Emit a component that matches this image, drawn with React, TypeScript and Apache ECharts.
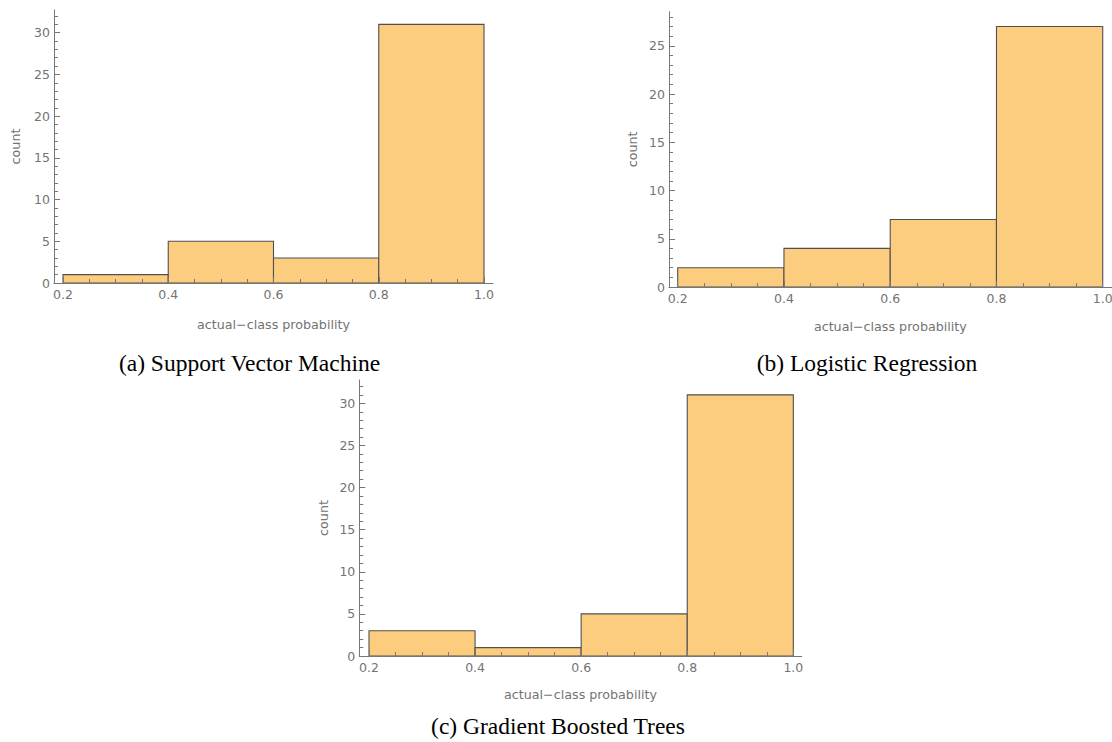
import React, { useEffect, useRef } from "react";
import * as echarts from "echarts";

const binEdges = [0.2, 0.4, 0.6, 0.8, 1.0];
const countsSVM = [1, 5, 3, 31];
const countsLR = [2, 4, 7, 27];
const countsGBT = [3, 1, 5, 31];

const xMajorTicks = [0.2, 0.4, 0.6, 0.8, 1.0];
const xMinorTicks = [0.2, 0.25, 0.3, 0.35, 0.4, 0.45, 0.5, 0.55, 0.6, 0.65, 0.7, 0.75, 0.8, 0.85, 0.9, 0.95, 1.0];
const yMajorTicksA = [0, 5, 10, 15, 20, 25, 30];
const yMajorTicksB = [0, 5, 10, 15, 20, 25];
const yMinorTicksA = [0, 1, 2, 3, 4, 5, 6, 7, 8, 9, 10, 11, 12, 13, 14, 15, 16, 17, 18, 19, 20, 21, 22, 23, 24, 25, 26, 27, 28, 29, 30, 31, 32];
const yMinorTicksB = [0, 1, 2, 3, 4, 5, 6, 7, 8, 9, 10, 11, 12, 13, 14, 15, 16, 17, 18, 19, 20, 21, 22, 23, 24, 25, 26, 27, 28];

const captions = ["(a) Support Vector Machine", "(b) Logistic Regression", "(c) Gradient Boosted Trees"];
const xName = "actual\u2212class probability";
const yName = "count";

const FILL = "#fccd7e";
const EDGE = "#505050";
const AXIS = "#777777";
const TEXT = "#737373";

function binsData(counts: number[]) {
  return counts.map((c, i) => [binEdges[i], binEdges[i + 1], c]);
}

export default function App() {
  const ref = useRef<HTMLDivElement>(null);
  useEffect(() => {
    if (!ref.current) return;
    const chart = echarts.init(ref.current, null, { renderer: "svg" });

    const panels = [
      { grid: { left: 54, top: 10, width: 439, height: 273 }, xmin: 0.1829, xmax: 1.0171, ymax: 32.72, counts: countsSVM, yMaj: yMajorTicksA, yMin: yMinorTicksA, yGap: 32, xGap: 35 },
      { grid: { left: 669, top: 11.7, width: 442.7, height: 275.3 }, xmin: 0.1836, xmax: 1.0169, ymax: 28.53, counts: countsLR, yMaj: yMajorTicksB, yMin: yMinorTicksB, yGap: 30.5, xGap: 32.5 },
      { grid: { left: 359.3, top: 380, width: 442.4, height: 276 }, xmin: 0.1817, xmax: 1.0158, ymax: 32.77, counts: countsGBT, yMaj: yMajorTicksA, yMin: yMinorTicksA, yGap: 29.5, xGap: 31.5 },
    ];

    const grids: any[] = [];
    const xAxes: any[] = [];
    const yAxes: any[] = [];
    const series: any[] = [];

    panels.forEach((p, i) => {
      grids.push({ ...p.grid, outerBoundsMode: "none", containLabel: false });
      xAxes.push({
        type: "value", gridIndex: i, min: p.xmin, max: p.xmax, z: 3,
        name: xName, nameLocation: "middle", nameGap: p.xGap,
        nameTextStyle: { color: TEXT, fontFamily: "DejaVu Sans", fontSize: 12.7 },
        axisLine: { show: true, lineStyle: { color: AXIS, width: 1 } },
        axisTick: { show: true, inside: true, length: 6, customValues: xMajorTicks, lineStyle: { color: AXIS, width: 1 } },
        axisLabel: { show: true, customValues: xMajorTicks, margin: 5, color: TEXT, fontFamily: "DejaVu Sans", fontSize: 12.5, formatter: (v: number) => v.toFixed(1) },
        splitLine: { show: false },
      });
      xAxes.push({
        type: "value", gridIndex: i, min: p.xmin, max: p.xmax, z: 3, position: "bottom",
        axisLine: { show: false },
        axisTick: { show: true, inside: true, length: 4, customValues: xMinorTicks, lineStyle: { color: AXIS, width: 1 } },
        axisLabel: { show: false },
        splitLine: { show: false },
      });
      yAxes.push({
        type: "value", gridIndex: i, min: 0, max: p.ymax, z: 3, position: "left",
        name: yName, nameLocation: "middle", nameGap: p.yGap,
        nameTextStyle: { color: TEXT, fontFamily: "DejaVu Sans", fontSize: 12.7 },
        axisLine: { show: true, lineStyle: { color: AXIS, width: 1 } },
        axisTick: { show: true, inside: true, length: 6, customValues: p.yMaj, lineStyle: { color: AXIS, width: 1 } },
        axisLabel: { show: true, customValues: p.yMaj, margin: 4, color: TEXT, fontFamily: "DejaVu Sans", fontSize: 12.5 },
        splitLine: { show: false },
      });
      yAxes.push({
        type: "value", gridIndex: i, min: 0, max: p.ymax, z: 3, position: "left", offset: 0,
        axisLine: { show: false },
        axisTick: { show: true, inside: true, length: 4, customValues: p.yMin, lineStyle: { color: AXIS, width: 1 } },
        axisLabel: { show: false },
        splitLine: { show: false },
      });
      series.push({
        type: "custom",
        xAxisIndex: i * 2,
        yAxisIndex: i * 2,
        encode: { x: [0, 1], y: 2 },
        data: binsData(p.counts),
        renderItem: (params: any, api: any) => {
          const x0 = api.value(0);
          const x1 = api.value(1);
          const v = api.value(2);
          const p0 = api.coord([x0, v]);
          const p1 = api.coord([x1, 0]);
          return {
            type: "rect",
            shape: { x: p0[0], y: p0[1], width: p1[0] - p0[0], height: p1[1] - p0[1] },
            style: { fill: FILL, stroke: EDGE, lineWidth: 1.1 },
          };
        },
      });
    });

    const captionPos = [
      { x: 249.5, y: 363 },
      { x: 867, y: 363 },
      { x: 558, y: 726 },
    ];

    chart.setOption({
      animation: false,
      grid: grids,
      xAxis: xAxes,
      yAxis: yAxes,
      series,
      graphic: captions.map((t, i) => ({
        type: "text",
        x: captionPos[i].x,
        y: captionPos[i].y,
        style: {
          text: t,
          font: "23.5px 'Liberation Serif'",
          fill: "#000",
          textAlign: "center",
          textVerticalAlign: "middle",
        },
      })),
    });
    return () => chart.dispose();
  }, []);
  return <div ref={ref} style={{ position: "absolute", left: 0, top: 0, width: 1112, height: 742, background: "#fff" }} />;
}
